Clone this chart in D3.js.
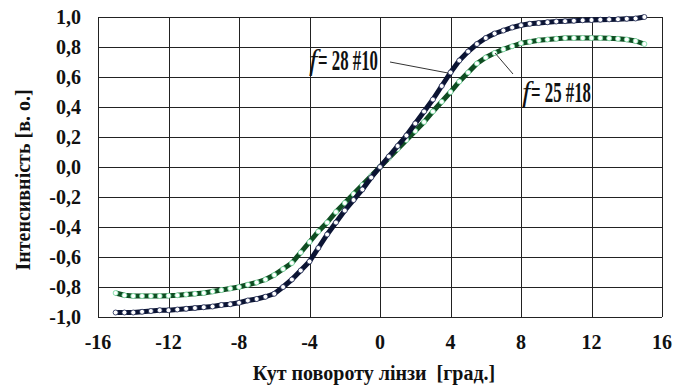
<!DOCTYPE html>
<html>
<head>
<meta charset="utf-8">
<script src="https://cdn.jsdelivr.net/npm/d3@7"></script>
<style>
  body { margin: 0; background: #fff; }
  svg { display: block; font-family: "Liberation Serif", "Times New Roman", serif; }
  .grid line { stroke: #222; stroke-width: 1; }
  .tick-label { font-size: 20px; font-weight: bold; fill: #111; }
  .axis-title { font-size: 20px; font-weight: bold; fill: #111; }
  .curve-label { font-size: 30px; font-weight: bold; fill: #111; }
  .curve-f { font-size: 30px; font-style: italic; fill: #111; }
</style>
</head>
<body>
<svg id="chart" width="674" height="387"></svg>
<script>
// angle of lens rotation, degrees
const angles = [-15, -14.5, -14, -13.5, -13, -12.5, -12, -11.5, -11, -10.5, -10, -9.5, -9, -8.5, -8,
  -7.5, -7, -6.5, -6, -5.5, -5, -4.5, -4, -3.5, -3, -2.5, -2, -1.5, -1, -0.5, 0,
  0.5, 1, 1.5, 2, 2.5, 3, 3.5, 4, 4.5, 5, 5.5, 6, 6.5, 7, 7.5, 8,
  8.5, 9, 9.5, 10, 10.5, 11, 11.5, 12, 12.5, 13, 13.5, 14, 14.5, 15];

// f = 28 #10
const seriesF28 = [-0.97, -0.97, -0.97, -0.965, -0.96, -0.955, -0.955, -0.95, -0.945, -0.94, -0.935, -0.93, -0.92, -0.915, -0.905,
  -0.89, -0.88, -0.865, -0.845, -0.80, -0.75, -0.69, -0.63, -0.54, -0.45, -0.37, -0.29, -0.22, -0.15, -0.07, 0,
  0.07, 0.14, 0.21, 0.29, 0.37, 0.45, 0.54, 0.63, 0.71, 0.77, 0.82, 0.86, 0.89, 0.91, 0.93, 0.945,
  0.955, 0.96, 0.965, 0.97, 0.972, 0.975, 0.978, 0.98, 0.982, 0.984, 0.985, 0.988, 0.99, 1.0];

// f = 25 #18
const seriesF25 = [-0.84, -0.855, -0.86, -0.86, -0.86, -0.86, -0.858, -0.855, -0.85, -0.845, -0.84, -0.83, -0.82, -0.81, -0.80,
  -0.785, -0.77, -0.75, -0.72, -0.68, -0.64, -0.57, -0.50, -0.43, -0.37, -0.30, -0.24, -0.18, -0.12, -0.06, 0,
  0.06, 0.12, 0.18, 0.24, 0.30, 0.37, 0.435, 0.50, 0.57, 0.63, 0.69, 0.73, 0.76, 0.785, 0.805, 0.825,
  0.835, 0.845, 0.85, 0.855, 0.86, 0.86, 0.86, 0.86, 0.86, 0.858, 0.855, 0.85, 0.84, 0.82];

const xTicks = [-16, -12, -8, -4, 0, 4, 8, 12, 16];
const yTicks = [-1, -0.8, -0.6, -0.4, -0.2, 0, 0.2, 0.4, 0.6, 0.8, 1];

const margin = { left: 98, top: 17, right: 12, bottom: 70 };
const width = 674 - margin.left - margin.right;
const height = 387 - margin.top - margin.bottom;

const svg = d3.select('#chart');
const g = svg.append('g').attr('transform', `translate(${margin.left},${margin.top})`);

const x = d3.scaleLinear().domain([-16, 16]).range([0, width]);
const y = d3.scaleLinear().domain([-1, 1]).range([height, 0]);

const fmt = v => d3.format('.1f')(v).replace('.', ',').replace('−', '-');

// grid
const grid = g.append('g').attr('class', 'grid');
grid.selectAll('.gx').data(xTicks).enter().append('line')
  .attr('x1', d => Math.round(x(d)) + 0.5).attr('x2', d => Math.round(x(d)) + 0.5)
  .attr('y1', 0).attr('y2', height);
grid.selectAll('.gy').data(yTicks).enter().append('line')
  .attr('x1', 0).attr('x2', width)
  .attr('y1', d => Math.round(y(d)) + 0.5).attr('y2', d => Math.round(y(d)) + 0.5);

// tick labels
g.selectAll('.ylab').data(yTicks).enter().append('text')
  .attr('class', 'tick-label')
  .attr('x', -17).attr('y', d => y(d) + 7)
  .attr('text-anchor', 'end')
  .text(fmt);

g.selectAll('.xlab').data(xTicks).enter().append('text')
  .attr('class', 'tick-label')
  .attr('x', d => x(d)).attr('y', height + 32)
  .attr('text-anchor', 'middle')
  .text(d => String(d));

// axis titles
svg.append('text').attr('class', 'axis-title')
  .attr('x', 374).attr('y', 380)
  .attr('text-anchor', 'middle')
  .attr('xml:space', 'preserve')
  .text('Кут повороту лінзи  [град.]');

svg.append('text').attr('class', 'axis-title')
  .attr('transform', 'translate(30,180) rotate(-90)')
  .attr('text-anchor', 'middle')
  .text('Інтенсивність [в. о.]');

// curves
const series = [
  { values: seriesF25, line: '#0f4d22', marker: '#6fd89a' },
  { values: seriesF28, line: '#0b1433', marker: '#1a2550' }
];

const line = d3.line()
  .x((d, i) => x(angles[i]))
  .y(d => y(d));

series.forEach(s => {
  g.append('path')
    .datum(s.values)
    .attr('fill', 'none')
    .attr('stroke', s.line)
    .attr('stroke-width', 5)
    .attr('stroke-linejoin', 'round')
    .attr('d', line);

  g.append('g').selectAll('circle')
    .data(s.values)
    .enter()
    .append('circle')
    .attr('cx', (d, i) => x(angles[i]))
    .attr('cy', d => y(d))
    .attr('r', 2.5)
    .attr('fill', '#fff')
    .attr('stroke', s.marker)
    .attr('stroke-width', 0.8);
});

// curve labels with pointer lines
const labels = [
  { num: '= 28 #10', tx: 309, ty: 70, len: 60, lx1: 390, ly1: 62, lx2: 448, ly2: 73 },
  { num: '= 25 #18', tx: 522, ty: 102, len: 60, lx1: 495, ly1: 53, lx2: 513, ly2: 74 }
];

labels.forEach(l => {
  svg.append('line')
    .attr('x1', l.lx1).attr('y1', l.ly1)
    .attr('x2', l.lx2).attr('y2', l.ly2)
    .attr('stroke', '#333').attr('stroke-width', 1);

  svg.append('text').attr('class', 'curve-f')
    .attr('x', l.tx).attr('y', l.ty)
    .text('f');

  svg.append('text').attr('class', 'curve-label')
    .attr('x', l.tx + 9).attr('y', l.ty)
    .attr('textLength', l.len)
    .attr('lengthAdjust', 'spacingAndGlyphs')
    .text(l.num);
});
</script>
</body>
</html>
